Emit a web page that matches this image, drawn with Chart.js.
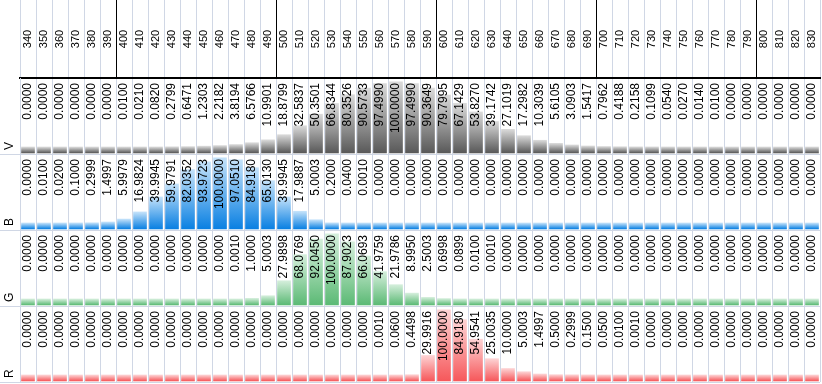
<!DOCTYPE html>
<html><head><meta charset="utf-8">
<script src="https://cdn.jsdelivr.net/npm/chart.js@4.4.1/dist/chart.umd.min.js"></script>
<style>html,body{margin:0;padding:0;background:#fff;}canvas{display:block;}</style>
</head><body>
<canvas id="c" width="822" height="384"></canvas>
<script>
// ---- data ----
const wavelengths = [340,350,360,370,380,390,400,410,420,430,440,450,460,470,480,490,
  500,510,520,530,540,550,560,570,580,590,600,610,620,630,640,650,660,670,680,690,
  700,710,720,730,740,750,760,770,780,790,800,810,820,830];
const seriesV = [0,0,0,0,0,0,
  0.0100,0.0210,0.0820,0.2799,0.6471,1.2303,2.2182,3.8194,6.5766,10.9901,
  18.8799,32.5837,50.3501,66.8344,80.3526,90.5733,97.4990,100.0000,97.4990,90.3649,
  79.7995,67.1429,53.8270,39.1742,27.1019,17.2982,10.3039,5.6105,3.0903,1.5417,
  0.7962,0.4188,0.2158,0.1099,0.0540,0.0270,0.0140,0.0100,0,0,
  0,0,0,0];
const seriesB = [0,0.0100,0.0200,0.1000,0.2999,1.4997,
  5.9979,16.9824,39.9945,59.9791,82.0352,93.9723,100.0000,97.0510,84.9180,65.0130,
  39.9945,17.9887,5.0003,0.2000,0.0400,0.0010,0,0,0,0,
  0,0,0,0,0,0,0,0,0,0,
  0,0,0,0,0,0,0,0,0,0,
  0,0,0,0];
const seriesG = [0,0,0,0,0,0,
  0,0,0,0,0,0,0,0.0010,1.0000,5.0003,
  27.9898,68.0769,92.0450,100.0000,87.9023,66.0693,41.9759,21.9786,8.9950,2.5003,
  0.6998,0.0899,0.0100,0.0010,0,0,0,0,0,0,
  0,0,0,0,0,0,0,0,0,0,
  0,0,0,0];
const seriesR = [0,0,0,0,0,0,
  0,0,0,0,0,0,0,0,0,0,
  0,0,0,0,0,0,0.0010,0.0600,0.4498,29.9916,
  100.0000,84.9180,54.9541,25.0035,10.0000,5.0003,1.4997,0.5000,0.2999,0.1500,
  0.0500,0.0100,0.0010,0,0,0,0,0,0,0,
  0,0,0,0];
const rowNames = ['V','B','G','R'];

// ---- styling ----
const GRID = '#d0d7e5';
const Y_MIN = -10.8, BAR_BASE = -9.2, Y_MAX = 106;
const FONT = 'Arial, "Liberation Sans", sans-serif';
const rowColors = {
  V: ['#595959', '#dadada'],
  B: ['#0a80e2', '#c4e2fa'],
  G: ['#5cba75', '#d4eedb'],
  R: ['#f6585b', '#fdd3d4']
};
const rowData = {V: seriesV, B: seriesB, G: seriesG, R: seriesR};

function gradFill(name) {
  const [bottom, top] = rowColors[name];
  return (ctx) => {
    const chart = ctx.chart;
    if (!chart.chartArea || ctx.type !== 'data') return bottom;
    const ys = chart.scales['y' + name];
    if (!ys) return bottom;
    const y0 = ys.getPixelForValue(BAR_BASE);
    const y1 = ys.getPixelForValue(ctx.parsed.y);
    if (!isFinite(y0) || !isFinite(y1) || y0 === y1) return bottom;
    const g = chart.ctx.createLinearGradient(0, y0, 0, y1);
    g.addColorStop(0, bottom);
    g.addColorStop(1, top);
    return g;
  };
}

function rowScale(weight) {
  return {
    type: 'linear', position: 'left', stack: 'rows', stackWeight: 1, weight: weight,
    min: Y_MIN, max: Y_MAX, bounds: 'data',
    afterBuildTicks: s => { s.ticks = [{value: Y_MIN}]; },
    afterFit: s => { s.width = 20; },
    ticks: {display: false},
    grid: {color: GRID, tickColor: GRID, tickLength: 20, drawTicks: true, lineWidth: 1},
    border: {display: true, color: GRID, width: 1}
  };
}

const isDecade = (i) => i === wavelengths.length || (wavelengths[i] % 100 === 0);

const textPlugin = {
  id: 'cellText',
  afterDatasetsDraw(chart) {
    const c = chart.ctx;
    const xs = chart.scales.x;
    c.save();
    c.fillStyle = '#000';
    // header labels
    c.font = '11px ' + FONT;
    c.textAlign = 'center';
    c.textBaseline = 'middle';
    wavelengths.forEach((w, i) => {
      const x = xs.getPixelForValue(i);
      c.save();
      c.translate(x, xs.top + (xs.bottom - xs.top) / 2);
      c.rotate(-Math.PI / 2);
      c.fillText(String(w), 0, 0);
      c.restore();
    });
    // cell values and row names
    rowNames.forEach(name => {
      const ys = chart.scales['y' + name];
      c.font = '12px ' + FONT;
      c.textAlign = 'right';
      c.textBaseline = 'middle';
      rowData[name].forEach((v, i) => {
        const x = xs.getPixelForValue(i);
        c.save();
        c.translate(x, ys.top + 5);
        c.rotate(-Math.PI / 2);
        c.fillText(v.toFixed(4), 0, 0);
        c.restore();
      });
      c.save();
      c.font = '12px ' + FONT;
      c.textAlign = 'left';
      c.translate(ys.left + ys.width / 2, ys.bottom - 4);
      c.rotate(-Math.PI / 2);
      c.fillText(name, 0, 0);
      c.restore();
    });
    c.restore();
  }
};

const datasets = rowNames.map(name => ({
  label: name,
  data: rowData[name],
  xAxisID: 'x',
  yAxisID: 'y' + name,
  base: BAR_BASE,
  grouped: false,
  barThickness: 13,
  borderWidth: 0,
  backgroundColor: gradFill(name)
}));

new Chart(document.getElementById('c'), {
  type: 'bar',
  data: {labels: wavelengths.map(String), datasets},
  options: {
    responsive: false,
    animation: false,
    devicePixelRatio: 1,
    layout: {padding: {left: 0, right: 2, top: 0, bottom: 2}},
    plugins: {legend: {display: false}, tooltip: {enabled: false}},
    scales: {
      x: {
        type: 'category', position: 'top', offset: true,
        afterFit: s => { s.height = 78; },
        ticks: {display: false},
        grid: {
          offset: true, color: GRID, lineWidth: 1, drawTicks: true, tickLength: 78,
          tickColor: ctx => isDecade(ctx.index) ? '#000' : GRID,
          tickWidth: 1
        },
        border: {display: true, color: '#000', width: 2}
      },
      yV: rowScale(4),
      yB: rowScale(3),
      yG: rowScale(2),
      yR: rowScale(1)
    }
  },
  plugins: [textPlugin]
});
</script>
</body></html>
